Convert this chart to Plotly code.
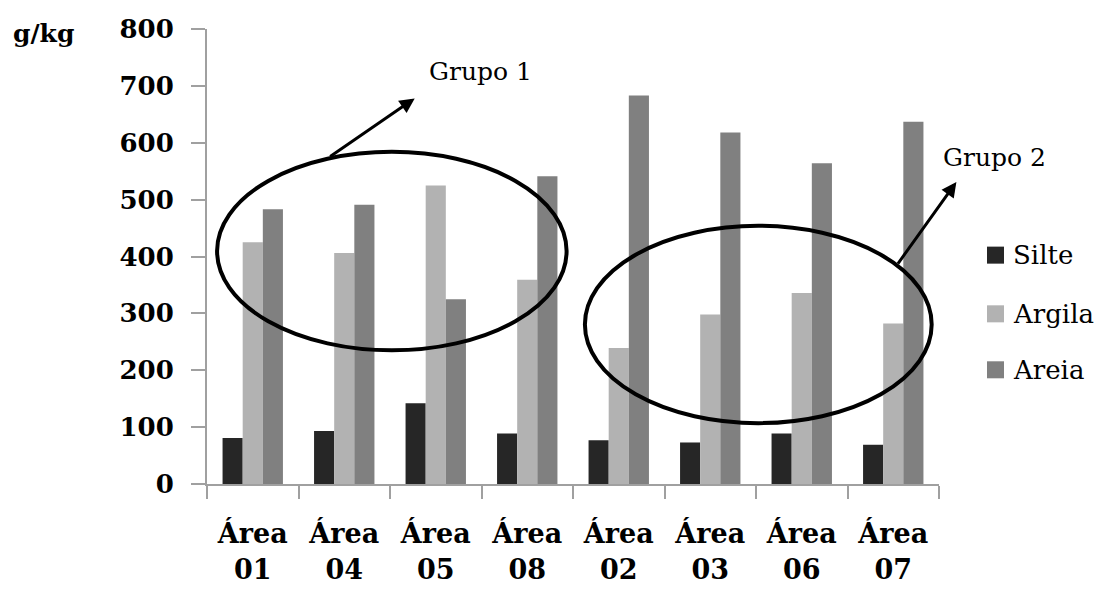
import plotly.graph_objects as go

# Soil texture fractions (g/kg) per sampled area
areas = ["Área<br>01", "Área<br>04", "Área<br>05", "Área<br>08",
         "Área<br>02", "Área<br>03", "Área<br>06", "Área<br>07"]
silte = [81, 93, 142, 89, 77, 73, 89, 69]
argila = [425, 406, 525, 359, 239, 298, 336, 282]
areia = [483, 491, 325, 541, 683, 618, 564, 637]

series_names = ["Silte", "Argila", "Areia"]
series_values = [silte, argila, areia]
series_colors = ["#262626", "#b2b2b2", "#808080"]

SERIF = "DejaVu Serif"

fig = go.Figure()
for name, vals, col in zip(series_names, series_values, series_colors):
    fig.add_trace(go.Bar(x=areas, y=vals, name=name, marker_color=col,
                         marker_line_width=0, showlegend=False))

fig.update_layout(
    width=1104, height=590,
    margin=dict(l=207, r=165, t=29, b=106),
    paper_bgcolor="white", plot_bgcolor="white",
    barmode="group", bargap=0.34, bargroupgap=0,
    font=dict(family=SERIF, color="black"),
)

fig.update_yaxes(
    range=[0, 800], dtick=100, showgrid=False, zeroline=False,
    showline=True, linecolor="#a0a0a0", linewidth=2, automargin=False,
    ticks="outside", ticklen=14, tickcolor="#a0a0a0", tickwidth=2,
    ticklabelstandoff=12,
    tickfont=dict(family=SERIF, size=26, weight="bold", color="black"),
)
fig.update_xaxes(
    range=[-0.5, 7.5], showgrid=False, zeroline=False,
    showline=True, linecolor="#a0a0a0", linewidth=2, automargin=False,
    ticks="outside", ticklen=13, tickcolor="#a0a0a0", tickwidth=2,
    tickson="boundaries", ticklabelstandoff=25,
    tickfont=dict(family=SERIF, size=27, weight="bold", color="black"),
)

# Unit label
fig.add_annotation(text="<b>g/kg</b>", xref="paper", yref="paper",
                   x=-0.268, y=0.99, xanchor="left", yanchor="middle",
                   showarrow=False, font=dict(family=SERIF, size=25))

# Group outlines
fig.add_shape(type="circle", xref="x", yref="y",
              x0=-0.39, x1=3.43, y0=235, y1=584,
              line=dict(color="black", width=4))
fig.add_shape(type="circle", xref="x", yref="y",
              x0=3.63, x1=7.42, y0=107, y1=454,
              line=dict(color="black", width=4))

# Arrows and group labels
fig.add_annotation(x=1.77, y=678, ax=0.83, ay=574, axref="x", ayref="y",
                   xref="x", yref="y", text="", showarrow=True,
                   arrowhead=2, arrowsize=1, arrowwidth=3, arrowcolor="black")
fig.add_annotation(x=7.69, y=531, ax=7.04, ay=385, axref="x", ayref="y",
                   xref="x", yref="y", text="", showarrow=True,
                   arrowhead=2, arrowsize=1, arrowwidth=3, arrowcolor="black")
fig.add_annotation(text="Grupo 1", x=0.3743, y=0.9055, xref="paper", yref="paper",
                   xanchor="center", yanchor="middle",
                   showarrow=False, font=dict(family=SERIF, size=25))
fig.add_annotation(text="Grupo 2", x=1.0765, y=0.7165, xref="paper", yref="paper",
                   xanchor="center", yanchor="middle",
                   showarrow=False, font=dict(family=SERIF, size=25))

# Legend: colour swatch plus series name
legend_rows = [0.503, 0.374, 0.251]
for name, col, yc in zip(series_names, series_colors, legend_rows):
    fig.add_shape(type="rect", xref="paper", yref="paper",
                  x0=1.0656, x1=1.0888, y0=yc - 0.0187, y1=yc + 0.0187,
                  fillcolor=col, line_width=0)
    fig.add_annotation(text=name, xref="paper", yref="paper",
                       x=1.099, y=yc, xanchor="left", yanchor="middle",
                       showarrow=False, font=dict(family=SERIF, size=26))

fig.write_html("out.html")
